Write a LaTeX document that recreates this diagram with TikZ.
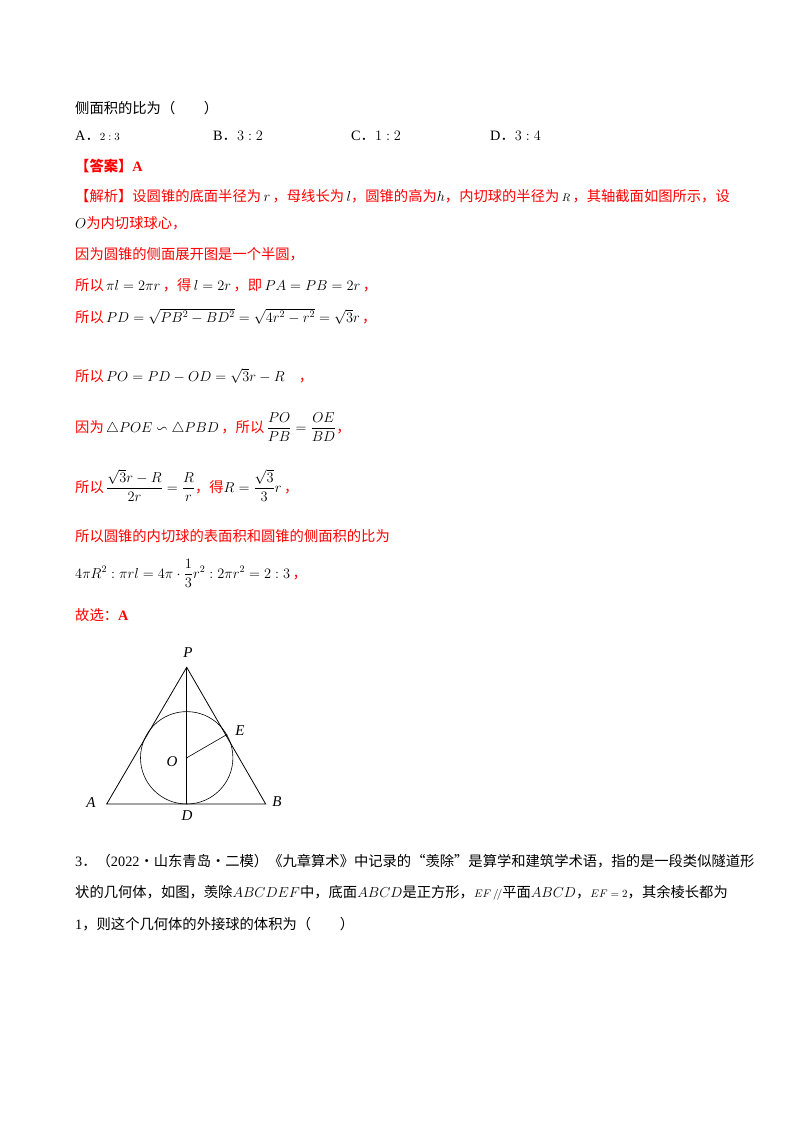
\documentclass[tikz,border=0pt]{standalone}
\usepackage{amsmath,amssymb}
\usepackage{fontspec}
\setmainfont{Liberation Serif}
\newfontfamily\cjk{Noto Sans CJK SC}
\newcommand{\zh}[1]{{\cjk #1}}
\newcommand{\smm}[1]{{\fontsize{11}{12}\selectfont$#1$}}
\definecolor{ansred}{RGB}{255,0,0}
\begin{document}
\begin{tikzpicture}[x=1pt,y=-1pt,
  line/.style={anchor=base west,inner sep=0pt,font=\fontsize{14.3}{16}\selectfont},
  red/.style={line,text=ansred},
  lab/.style={inner sep=0pt,font=\fontsize{15}{16}\selectfont\itshape}]
\useasboundingbox (0,0) rectangle (800,1132);
\fill[white] (0,0) rectangle (800,1132);
\node[line] (t1) at (75,113) {\zh{侧面积的比为（\quad\quad）}};
\node[line] (oa) at (75,140) {A\zh{．}\smm{2:3}};
\node[line] (ob) at (213,140) {B\zh{．}$3:2$};
\node[line] (oc) at (351,140) {C\zh{．}$1:2$};
\node[line] (od) at (490,140) {D\zh{．}$3:4$};
\node[red] (ans) at (75,171) {\textbf{\zh{【答案】}A}};
\node[red] (j1) at (75,201) {\zh{【解析】设圆锥的底面半径为}\textcolor{black}{$\,r\,$}\zh{，母线长为}\textcolor{black}{$\,l$}\zh{，圆锥的高为}\textcolor{black}{$h$}\zh{，内切球的半径为}\textcolor{black}{\,\smm{R}\,}\zh{，其轴截面如图所示，设}};
\node[red] (j2) at (75,228) {\textcolor{black}{$O$}\zh{为内切球球心，}};
\node[red] (j3) at (75,259) {\zh{因为圆锥的侧面展开图是一个半圆，}};
\node[red] (j4) at (75,290) {\zh{所以}\textcolor{black}{$\,\pi l=2\pi r\,$}\zh{，得}\textcolor{black}{$\,l=2r\,$}\zh{，即}\textcolor{black}{$\,PA=PB=2r\,$}\zh{，}};
\node[red] (j5) at (75,322) {\zh{所以}\textcolor{black}{$\,PD=\sqrt{PB^2-BD^2}=\sqrt{4r^2-r^2}=\sqrt3 r\,$}\zh{，}};
\node[red] (j6) at (75,381) {\zh{所以}\textcolor{black}{$\,PO=PD-OD=\sqrt3 r-R\quad$}\zh{，}};
\node[red] (j7) at (75,432) {\zh{因为}\textcolor{black}{$\,\triangle POE\backsim\triangle PBD\,$}\zh{，所以}\textcolor{black}{$\displaystyle\,\frac{PO}{PB}=\frac{OE}{BD}$}\zh{，}};
\node[red] (j8) at (75,492) {\zh{所以}\textcolor{black}{$\displaystyle\,\frac{\sqrt3 r-R}{2r}=\frac{R}{r}$}\zh{，得}\textcolor{black}{$\displaystyle R=\frac{\sqrt3}{3}r\,$}\zh{，}};
\node[red] (j9) at (75,541) {\zh{所以圆锥的内切球的表面积和圆锥的侧面积的比为}};
\node[red] (j10) at (75,578) {\textcolor{black}{$4\pi R^2:\pi rl=4\pi\cdot\dfrac13 r^2:2\pi r^2=2:3\,$}\zh{，}};
\node[red] (j11) at (75,620) {\zh{故选：}\textbf{A}};
% figure
\coordinate (P) at (186.7,667.3);
\coordinate (A) at (106.7,804);
\coordinate (B) at (265.7,804);
\coordinate (D) at (186.7,804);
\coordinate (O) at (186.7,757.8);
\coordinate (E) at (226.4,734.8);
\draw[line width=0.8pt] (A) -- (P) -- (B) -- cycle;
\draw[line width=0.8pt] (P) -- (D);
\draw[line width=0.6pt] (O) circle (46.2);
\draw[line width=0.6pt] (O) -- (E);
\fill (O) circle (0.9); \fill (E) circle (0.9);
\node[lab] (lP) at (188,653) {P};
\node[lab] (lA) at (91,803) {A};
\node[lab] (lB) at (277,802) {B};
\node[lab] (lD) at (187,816) {D};
\node[lab] (lO) at (172,762) {O};
\node[lab] (lE) at (240,731) {E};
% problem 3
\node[line] (p1) at (75,866) {3\zh{．（}2022\zh{·山东青岛·二模）《九章算术》中记录的“羡除”是算学和建筑学术语，指的是一段类似隧道形}};
\node[line] (p2) at (75,897) {\zh{状的几何体，如图，羡除}$ABCDEF$\zh{中，底面}$ABCD$\zh{是正方形，}\smm{EF\,/\!/}\zh{平面}$ABCD$\zh{，}\smm{EF=2}\zh{，其余棱长都为}};
\node[line] (p3) at (75,929) {1\zh{，则这个几何体的外接球的体积为（\quad\quad）}};
\end{tikzpicture}
\end{document}
